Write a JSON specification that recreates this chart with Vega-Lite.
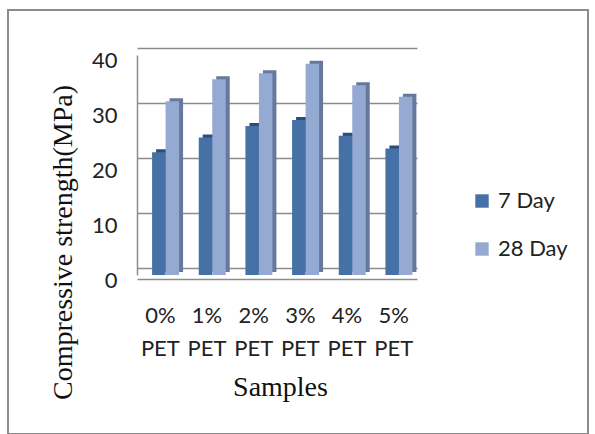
{
  "$schema": "https://vega.github.io/schema/vega-lite/v6.json",
  "width": 580,
  "height": 424,
  "autosize": {"type": "none"},
  "padding": {"left": 8, "top": 10, "right": 7, "bottom": 0},
  "background": "white",
  "config": {"view": {"stroke": "#8c8c8c", "strokeWidth": 2}, "font": "Lato"},
  "data": {"values": [
    {"sample": "0% PET", "series": "7 Day", "value": 22.3},
    {"sample": "0% PET", "series": "28 Day", "value": 31.6},
    {"sample": "1% PET", "series": "7 Day", "value": 25.0},
    {"sample": "1% PET", "series": "28 Day", "value": 35.6},
    {"sample": "2% PET", "series": "7 Day", "value": 27.1},
    {"sample": "2% PET", "series": "28 Day", "value": 36.7},
    {"sample": "3% PET", "series": "7 Day", "value": 28.2},
    {"sample": "3% PET", "series": "28 Day", "value": 38.4},
    {"sample": "4% PET", "series": "7 Day", "value": 25.3},
    {"sample": "4% PET", "series": "28 Day", "value": 34.5},
    {"sample": "5% PET", "series": "7 Day", "value": 23.0},
    {"sample": "5% PET", "series": "28 Day", "value": 32.4}
  ]},
  "encoding": {
    "x": {
      "field": "sample", "type": "nominal", "sort": null,
      "scale": {"range": [129, 409], "paddingInner": 0, "paddingOuter": 0},
      "axis": {
        "orient": "bottom", "offset": -155, "labelAngle": 0,
        "labelExpr": "split(datum.label, ' ')",
        "labelBaseline": "middle", "labelLineHeight": 33, "labelPadding": 36,
        "ticks": false, "tickSize": 0,
        "labelFont": "Lato", "labelFontSize": 22, "labelColor": "#222222",
        "domainColor": "#8c8c8c", "domainWidth": 1.5,
        "title": "Samples", "titleFont": "Liberation Serif", "titleFontSize": 28,
        "titleFontWeight": "normal", "titleColor": "#111111",
        "titleX": 272, "titleY": 108, "titleBaseline": "middle", "titleAlign": "center"
      }
    },
    "y": {
      "field": "value", "type": "quantitative",
      "scale": {"domain": [0, 40], "range": [265, 45], "nice": false},
      "axis": {
        "orient": "left", "offset": -129, "values": [0, 10, 20, 30, 40],
        "grid": true, "gridColor": "#8c8c8c", "gridWidth": 1.5,
        "tickOffset": -7, "labelOffset": 12, "ticks": false, "labelPadding": 20,
        "labelFont": "Lato", "labelFontSize": 22, "labelColor": "#222222",
        "domainColor": "#8c8c8c", "domainWidth": 1.5,
        "title": "Compressive strength(MPa)", "titleFont": "Liberation Serif",
        "titleFontSize": 28, "titleFontWeight": "normal", "titleColor": "#111111",
        "titleX": -74, "titleY": 232, "titleAngle": -90, "titleAlign": "center",
        "titleBaseline": "middle"
      }
    }
  },
  "layer": [
    {
      "transform": [{"filter": "datum.series == '7 Day'"}],
      "mark": {"type": "bar", "width": {"band": 0.289}, "xOffset": 2.5, "yOffset": -3, "color": "#2c4d78"}
    },
    {
      "transform": [{"filter": "datum.series == '7 Day'"}],
      "mark": {"type": "bar", "width": {"band": 0.289}, "xOffset": -1.5},
      "encoding": {
        "color": {"field": "series", "type": "nominal",
          "scale": {"domain": ["7 Day", "28 Day"], "range": ["#4571a7", "#95aad3"]},
          "legend": {"orient": "none", "legendX": 463, "legendY": 180, "title": null,
            "symbolType": "square", "symbolSize": 180, "symbolStrokeWidth": 0,
            "labelFont": "Lato", "labelFontSize": 22, "labelColor": "#222222",
            "rowPadding": 26, "labelOffset": 5, "padding": 0}
        }
      }
    },
    {
      "transform": [{"filter": "datum.series == '28 Day'"}],
      "mark": {"type": "bar", "width": {"band": 0.289}, "xOffset": 16, "yOffset": -3, "color": "#66799c"}
    },
    {
      "transform": [{"filter": "datum.series == '28 Day'"}],
      "mark": {"type": "bar", "width": {"band": 0.289}, "xOffset": 12},
      "encoding": {
        "color": {"field": "series", "type": "nominal",
          "scale": {"domain": ["7 Day", "28 Day"], "range": ["#4571a7", "#95aad3"]}}
      }
    }
  ]
}
